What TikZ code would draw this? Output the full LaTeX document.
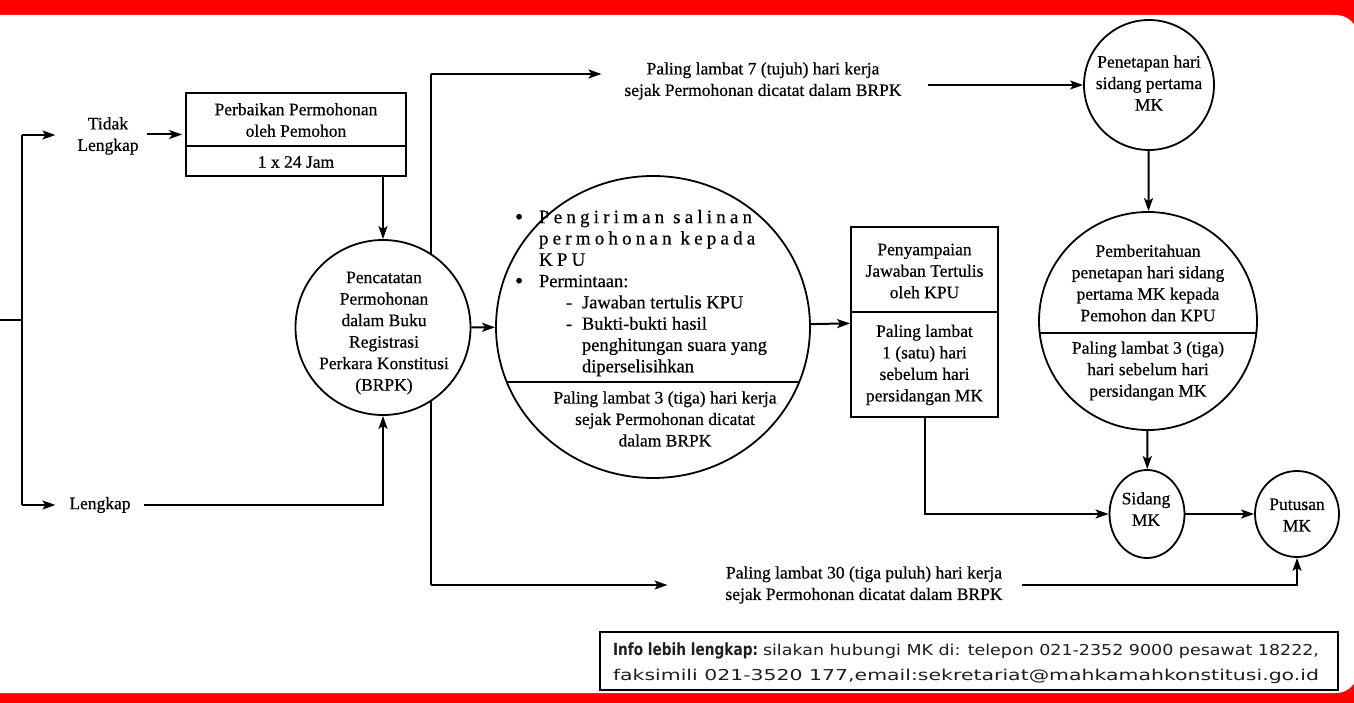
\documentclass[tikz,border=0pt]{standalone}
\usepackage{fontspec}
\usepackage{graphicx}
\setmainfont{Liberation Serif}[FakeBold=0.5]
\newfontfamily\infofont{DejaVu Sans}
\usetikzlibrary{shapes.geometric,arrows.meta}
\definecolor{framered}{RGB}{255,0,0}
\definecolor{infotext}{RGB}{30,30,30}
\newcommand{\bulletmark}{\makebox[24pt][l]{\raisebox{-1.2pt}{\scalebox{1.25}{\textbullet}}}}
\begin{document}
\begin{tikzpicture}[x=1pt,y=-1pt,
  line width=2pt,
  arr/.style={line width=2pt, -{Stealth[length=13pt,width=9pt,inset=3pt]}},
  txt/.style={font=\fontsize{17.5}{21.5}\selectfont, align=center, inner sep=0pt},
  outl/.style={draw, line width=1.8pt, inner sep=0pt},
  divider/.style={line width=1.8pt}
]
\useasboundingbox (0,0) rectangle (1354,703);
\fill[framered] (0,0) rectangle (1354,703);
\fill[white, rounded corners=22pt] (-40,15) rectangle (1358,693);

% free ends of connectors
\coordinate (in) at (0,320);
\coordinate (lv) at (22,320);
\coordinate (lt) at (22,135);
\coordinate (lb) at (22,505);
\coordinate (vt) at (431,74);
\coordinate (vb) at (431,585);

% text labels
\node[txt] (tidak) at (108,136) {Tidak\\Lengkap};
\node[txt] (lengkap) at (100,505) {Lengkap};
\node[txt] (t7) at (763,81) {Paling lambat 7 (tujuh) hari kerja\\sejak Permohonan dicatat dalam BRPK};
\node[txt] (b30) at (864,585) {Paling lambat 30 (tiga puluh) hari kerja\\sejak Permohonan dicatat dalam BRPK};

% Perbaikan box
\node[outl, minimum width=220pt, minimum height=83pt] (perb) at (296,134.5) {};
\draw[divider] (perb.west |- 0,146) -- (perb.east |- 0,146);
\node[txt] (perbtop) at (296,120) {Perbaikan Permohonan\\oleh Pemohon};
\node[txt] (perbbot) at (296,162) {1 x 24 Jam};

% vertical trunk behind the BRPK circle
\draw (vt) -- (vb);

% BRPK circle
\node[outl, circle, minimum size=175pt, fill=white] (brpk) at (383,327.5) {};
\node[txt] (brpktxt) at (384,333) {Pencatatan\\Permohonan\\dalam Buku\\Registrasi\\Perkara Konstitusi\\(BRPK)};

% big circle
\node[outl, ellipse, minimum width=314pt, minimum height=302pt] (big) at (653,327) {};
\draw[divider] ([shift={(-146.2,55)}]big.center) -- ([shift={(146.2,55)}]big.center);
\node[txt, font=\fontsize{18.5}{21.3}\selectfont, align=left, anchor=north west] (bigtop) at (514,209) {%
\bulletmark{\fontsize{19}{21.3}\selectfont\addfontfeature{LetterSpace=22}Pengiriman salinan}\\
\hspace*{24pt}{\fontsize{19}{21.3}\selectfont\addfontfeature{LetterSpace=22}permohonan kepada}\\
\hspace*{24pt}{\fontsize{19}{21.3}\selectfont\addfontfeature{LetterSpace=22}KPU}\\
\bulletmark Permintaan:\\
\hspace*{67pt}\llap{\makebox[16pt][l]{-}}Jawaban tertulis KPU\\
\hspace*{67pt}\llap{\makebox[16pt][l]{-}}Bukti-bukti hasil\\
\hspace*{67pt}penghitungan suara yang\\
\hspace*{67pt}diperselisihkan};
\node[txt] (bigbot) at (665,419) {Paling lambat 3 (tiga) hari kerja\\sejak Permohonan dicatat\\dalam BRPK};

% KPU box
\node[outl, minimum width=147pt, minimum height=190pt] (kpu) at (924.5,322) {};
\draw[divider] (kpu.west |- 0,312) -- (kpu.east |- 0,312);
\node[txt] (kputop) at (924.5,271) {Penyampaian\\Jawaban Tertulis\\oleh KPU};
\node[txt] (kpubot) at (924.5,365) {Paling lambat\\1 (satu) hari\\sebelum hari\\persidangan MK};

% Penetapan circle
\node[outl, circle, minimum size=130pt] (pen) at (1149,85) {};
\node[txt] (pentxt) at (1149,83) {Penetapan hari\\sidang pertama\\MK};

% Pemberitahuan circle
\node[outl, circle, minimum size=218pt] (pem) at (1148,321) {};
\draw[divider] ([shift={(-108.3,12)}]pem.center) -- ([shift={(108.3,12)}]pem.center);
\node[txt] (pemtop) at (1148,283) {Pemberitahuan\\penetapan hari sidang\\pertama MK kepada\\Pemohon dan KPU};
\node[txt] (pembot) at (1148,371) {Paling lambat 3 (tiga)\\hari sebelum hari\\persidangan MK};

% Sidang and Putusan
\node[outl, ellipse, minimum width=75pt, minimum height=88pt] (sid) at (1147,514) {};
\node[txt] (sidtxt) at (1146,509) {Sidang\\MK};
\node[outl, ellipse, minimum width=84pt, minimum height=86pt] (put) at (1297,514) {};
\node[txt] (puttxt) at (1297,515) {Putusan\\MK};

% connectors
\draw (in) -- (lv);
\draw (lt) -- (lb);
\draw[arr, shorten >=21pt] (lt) -- (tidak.west |- lt);
\draw[arr, shorten <=7pt, shorten >=3pt] (tidak.east |- perb) -- (perb.west);
\draw[arr, shorten >=13pt] (lb) -- (lengkap.west);
\draw[arr, shorten <=12pt] (lengkap.east) -| (brpk.south);
\draw[arr] (perb.south -| brpk) -- (brpk.north);
\draw[arr, shorten >=22pt] (vt) -- (t7.west |- vt);
\draw[arr, shorten <=25pt] (t7.east |- pen) -- (pen.west);
\draw[arr, shorten >=57pt] (vb) -- (b30.west |- vb);
\draw[arr, shorten <=18pt] (b30.east) -| (put.south);
\draw[arr] (brpk) -- (big);
\draw[arr] (big) -- (kpu);
\draw[arr] (kpu.south) |- (sid.west);
\draw[arr] (pen) -- (pem);
\draw[arr] (pem) -- (sid);
\draw[arr] (sid) -- (put);

% info box
\node[draw, line width=1.5pt, minimum width=738pt, minimum height=58pt, inner sep=0pt] (info) at (969,661) {};
\node[anchor=west, inner sep=0pt, align=left, text=infotext, font=\infofont\fontsize{15}{25}\selectfont] (infotxt) at (612,663) {%
\makebox[150pt][l]{\resizebox{145pt}{1.12\height}{\bfseries Info lebih lengkap:}}\resizebox{556pt}{\height}{silakan hubungi MK di: telepon 021-2352 9000 pesawat 18222,}\\
\resizebox{706pt}{\height}{faksimili 021-3520 177,email:sekretariat@mahkamahkonstitusi.go.id}};
\end{tikzpicture}
\end{document}
